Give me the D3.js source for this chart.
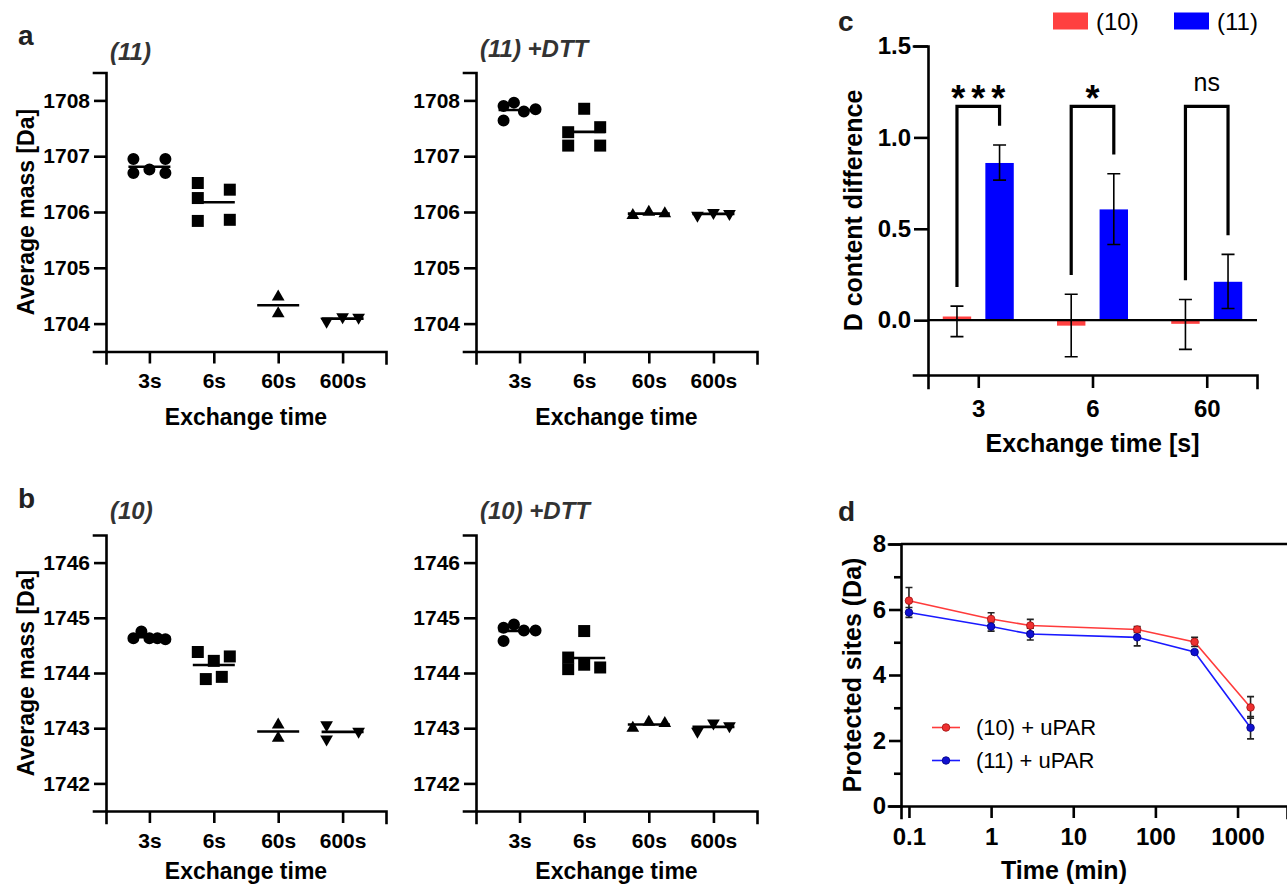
<!DOCTYPE html>
<html><head><meta charset="utf-8">
<script src="https://cdn.jsdelivr.net/npm/d3@7"></script>
<style>
body{margin:0;background:#fff}
svg{display:block}
text{font-family:"Liberation Sans",Arial,Helvetica,sans-serif}
</style>
</head><body>
<svg id="fig" width="1287" height="885"></svg>
<script>
// ---------------- DATA ----------------
const times = ["3s", "6s", "60s", "600s"];
const massTicksA = [1704, 1705, 1706, 1707, 1708];
const massTicksB = [1742, 1743, 1744, 1745, 1746];

// (11)
const mass11 = [
  [1706.95, 1706.70, 1706.76, 1706.95, 1706.70],
  [1706.52, 1706.25, 1705.84, 1706.40, 1705.86],
  [1704.48, 1704.18],
  [1704.04, 1704.12, 1704.11]
];
const slot11 = [[-1, -1, 0, 1, 1], [-1, -1, -1, 1, 1], [0, 0], [-1, 0, 1]];

// (11) +DTT
const mass11DTT = [
  [1707.90, 1707.96, 1707.80, 1707.84, 1707.64],
  [1707.85, 1707.43, 1707.19, 1707.52, 1707.19],
  [1705.94, 1706.00, 1705.97],
  [1705.94, 1705.99, 1705.97]
];
const slot11DTT = [[-1, -0.35, 0.27, 1, -1], [0, -1, -1, 1, 1], [-1, 0, 1], [-1, 0, 1]];

// (10)
const mass10 = [
  [1744.63, 1744.75, 1744.63, 1744.63, 1744.61],
  [1744.38, 1744.22, 1744.30, 1743.89, 1743.93],
  [1743.06, 1742.82],
  [1743.06, 1742.80, 1742.94]
];
const slot10 = [[-1, -0.5, 0, 0.5, 1], [-1, 0, 1, -0.5, 0.5], [0, 0], [-1, -1, 1]];

// (10) +DTT
const mass10DTT = [
  [1744.82, 1744.88, 1744.77, 1744.77, 1744.58],
  [1744.76, 1744.28, 1744.07, 1744.15, 1744.10],
  [1743.00, 1743.11, 1743.09],
  [1742.94, 1743.09, 1743.04]
];
const slot10DTT = [[-1, -0.35, 0.27, 1, -1], [0, -1, -1, 0, 1], [-1, 0, 1], [-1, 0, 1]];

// panel c
const cGroups = ["3", "6", "60"];
const cSeries = ["(10)", "(11)"];
const diff10 = [0.02, -0.03, -0.02];
const diff10Lo = [-0.09, -0.20, -0.16];
const diff10Hi = [0.077, 0.142, 0.113];
const diff11 = [0.86, 0.606, 0.21];
const diff11Lo = [0.766, 0.414, 0.064];
const diff11Hi = [0.958, 0.801, 0.36];
const sigLabels = ["***", "*", "ns"];
const cTicks = [0.0, 0.5, 1.0, 1.5];

// panel d
const tMin = [0.1, 1, 3, 60, 300, 1440];
const prot10 = [6.27, 5.71, 5.51, 5.39, 5.01, 3.01];
const sd10 = [0.40, 0.19, 0.19, 0.09, 0.14, 0.33];
const prot11 = [5.91, 5.48, 5.25, 5.15, 4.70, 2.39];
const sd11 = [0.15, 0.14, 0.18, 0.26, 0.05, 0.34];
const dXTicks = [0.1, 1, 10, 100, 1000];
const dYTicks = [0, 2, 4, 6, 8];
const dYMinor = [1, 3, 5, 7];
const dLegend = ["(10) + uPAR", "(11) + uPAR"];

// ---------------- DRAW ----------------
const svg = d3.select("#fig");
const FONT = '"Liberation Sans",Arial,Helvetica,sans-serif';
const RED = "#ff4040", BLUE = "#0000ff";

function styleAxis(sel, fs) {
  sel.attr("font-family", FONT).attr("font-size", fs);
  sel.select(".domain").attr("stroke", "#000").attr("stroke-width", 2.6).attr("stroke-linecap", "square");
  sel.selectAll(".tick line").attr("stroke", "#000").attr("stroke-width", 2.6);
  sel.selectAll(".tick text").attr("fill", "#000").attr("font-weight", "bold");
}

function label(txt, x, y, opts = {}) {
  return svg.append("text").attr("x", x).attr("y", y)
    .attr("text-anchor", opts.anchor || "middle")
    .attr("font-size", opts.size || 23)
    .attr("font-weight", opts.weight || "bold")
    .attr("font-style", opts.style || "normal")
    .attr("fill", opts.fill || "#000")
    .text(txt);
}

const symbols = [d3.symbolCircle, d3.symbolSquare, d3.symbolTriangle, d3.symbolTriangle];
const symSizes = [113, 144, 70, 70];

function scatterPanel(p) {
  const x = d3.scalePoint().domain(times).range([p.x0, p.x1]).padding(0.674);
  const y = d3.scaleLinear().domain(p.domain).range([p.y1, p.y0]);
  const jit = d3.scaleLinear().domain([-1, 1]).range([-16, 16]);
  const g = svg.append("g");

  g.append("g").attr("transform", `translate(0,${p.y1})`)
    .call(d3.axisBottom(x).tickSizeOuter(0).tickSize(12).tickPadding(10))
    .call(s => styleAxis(s, 21));
  g.append("g").attr("transform", `translate(${p.x0},0)`)
    .call(d3.axisLeft(y).tickValues(p.ticks).tickFormat(d3.format("d")).tickSizeOuter(0).tickSize(12).tickPadding(4))
    .call(s => styleAxis(s, 21));

  p.data.forEach((vals, i) => {
    const cx = x(times[i]);
    g.selectAll(null).data(vals.map((v, j) => ({ v, s: p.slots[i][j] }))).join("path")
      .attr("d", d3.symbol(symbols[i], symSizes[i]))
      .attr("fill", "#000")
      .attr("transform", d => `translate(${cx + jit(d.s)},${y(d.v)}) rotate(${i === 3 ? 180 : 0})`);
    const m = d3.mean(vals);
    g.append("line").attr("x1", cx - 21).attr("x2", cx + 21)
      .attr("y1", y(m)).attr("y2", y(m)).attr("stroke", "#000").attr("stroke-width", 2.6);
  });

  label(p.title, p.x0 + 4, p.titleY, { anchor: "start", size: 24, style: "italic", fill: "#333" });
  label("Exchange time", (p.x0 + p.x1) / 2, p.xlabY, { size: 23 });
  if (p.ylab) {
    svg.append("text").attr("transform", `translate(34,${(p.y0 + p.y1) / 2}) rotate(-90)`)
      .attr("text-anchor", "middle").attr("font-size", 23).attr("font-weight", "bold").text("Average mass [Da]");
  }
}

scatterPanel({ x0: 106, x1: 386, y0: 72.5, y1: 351.5, domain: [1703.5, 1708.5], ticks: massTicksA,
  data: mass11, slots: slot11, title: "(11)", titleY: 60, xlabY: 425, ylab: true });
scatterPanel({ x0: 476, x1: 757, y0: 72.5, y1: 351.5, domain: [1703.5, 1708.5], ticks: massTicksA,
  data: mass11DTT, slots: slot11DTT, title: "(11) +DTT", titleY: 57, xlabY: 425 });
scatterPanel({ x0: 106, x1: 386, y0: 535, y1: 811, domain: [1741.5, 1746.5], ticks: massTicksB,
  data: mass10, slots: slot10, title: "(10)", titleY: 519, xlabY: 879, ylab: true });
scatterPanel({ x0: 476, x1: 757, y0: 535, y1: 811, domain: [1741.5, 1746.5], ticks: massTicksB,
  data: mass10DTT, slots: slot10DTT, title: "(10) +DTT", titleY: 519, xlabY: 879 });

// panel letters
label("a", 18, 45, { anchor: "start", size: 28, fill: "#222" });
label("b", 18, 508, { anchor: "start", size: 28, fill: "#222" });
label("c", 838, 31, { anchor: "start", size: 28, fill: "#222" });
label("d", 838, 521, { anchor: "start", size: 28, fill: "#222" });

// ---------- Panel c ----------
(function () {
  const X0 = 928, X1 = 1257, Y0 = 46, Y1 = 375;
  const x = d3.scalePoint().domain(cGroups).range([X0, X1]).padding(0.44);
  const xs = d3.scaleBand().domain(cSeries).range([-35.5, 35.5]).paddingInner(0.333);
  const y = d3.scaleLinear().domain([-0.3, 1.5]).range([Y1, Y0]);
  const g = svg.append("g");

  const series = [
    { name: cSeries[0], v: diff10, lo: diff10Lo, hi: diff10Hi, c: RED },
    { name: cSeries[1], v: diff11, lo: diff11Lo, hi: diff11Hi, c: BLUE }
  ];
  series.forEach(s => {
    g.selectAll(null).data(cGroups).join("rect")
      .attr("x", (d) => x(d) + xs(s.name))
      .attr("width", xs.bandwidth())
      .attr("y", (d, i) => y(Math.max(0, s.v[i])))
      .attr("height", (d, i) => Math.abs(y(s.v[i]) - y(0)))
      .attr("fill", s.c);
  });
  // zero line
  g.append("line").attr("x1", X0).attr("x2", X1).attr("y1", y(0)).attr("y2", y(0))
    .attr("stroke", "#000").attr("stroke-width", 2.4);
  // error bars
  series.forEach(s => {
    cGroups.forEach((d, i) => {
      const cx = x(d) + xs(s.name) + xs.bandwidth() / 2;
      g.append("path").attr("d",
        `M${cx},${y(s.lo[i])}V${y(s.hi[i])}M${cx - 6.5},${y(s.hi[i])}H${cx + 6.5}M${cx - 6.5},${y(s.lo[i])}H${cx + 6.5}`)
        .attr("stroke", "#000").attr("stroke-width", 1.6).attr("fill", "none");
    });
  });
  // significance brackets
  cGroups.forEach((d, i) => {
    const lx = x(d) + xs(cSeries[0]) + xs.bandwidth() / 2;
    const rx = x(d) + xs(cSeries[1]) + xs.bandwidth() / 2;
    const top = 1.17;
    g.append("path").attr("d",
      `M${lx},${y(diff10Hi[i] + 0.105)}V${y(top)}H${rx}V${y(diff11Hi[i] + 0.105)}`)
      .attr("stroke", "#000").attr("stroke-width", 3.2).attr("fill", "none");
    const isStar = sigLabels[i] !== "ns";
    g.append("text").attr("x", (lx + rx) / 2 + (isStar ? 3 : 0)).attr("y", isStar ? y(top) + 5 : y(top) - 15)
      .attr("text-anchor", "middle")
      .attr("font-size", isStar ? 36 : 25)
      .attr("font-weight", isStar ? "bold" : "normal")
      .attr("letter-spacing", isStar ? 6 : 0)
      .text(sigLabels[i]);
  });

  g.append("g").attr("transform", `translate(0,${Y1})`)
    .call(d3.axisBottom(x).tickSizeOuter(0).tickSize(13).tickPadding(12))
    .call(s => styleAxis(s, 24));
  g.append("g").attr("transform", `translate(${X0},0)`)
    .call(d3.axisLeft(y).tickValues(cTicks).tickFormat(d3.format(".1f")).tickSizeOuter(0).tickSize(14).tickPadding(3))
    .call(s => styleAxis(s, 24));

  svg.append("text").attr("transform", `translate(862,${(Y0 + 375) / 2}) rotate(-90)`)
    .attr("text-anchor", "middle").attr("font-size", 25).attr("font-weight", "bold").text("D content difference");
  label("Exchange time [s]", (X0 + X1) / 2, 452, { size: 25 });

  // legend
  series.forEach((s, i) => {
    const lx = 1053 + i * 121;
    svg.append("rect").attr("x", lx).attr("y", 12.5).attr("width", 35).attr("height", 17).attr("fill", s.c);
    label(s.name, lx + 43, 30, { anchor: "start", size: 24, weight: "normal" });
  });
})();

// ---------- Panel d ----------
(function () {
  const X0 = 901, X1 = 1287, Y0 = 544, Y1 = 806;
  const x = d3.scaleLog().domain([0.08, 4000]).range([X0, X1]);
  const y = d3.scaleLinear().domain([0, 8]).range([Y1, Y0]);
  const g = svg.append("g");

  // frame top
  g.append("line").attr("x1", X0).attr("x2", X1 + 5).attr("y1", Y0).attr("y2", Y0)
    .attr("stroke", "#000").attr("stroke-width", 2.6);

  g.append("g").attr("transform", `translate(0,${Y1})`)
    .call(d3.axisBottom(x).tickValues(dXTicks).tickFormat(d => d < 1 ? "0.1" : d3.format("d")(d)).tickSizeOuter(0).tickSize(12).tickPadding(10))
    .call(s => styleAxis(s, 24));
  g.append("g").attr("transform", `translate(${X0},0)`)
    .call(d3.axisLeft(y).tickValues(dYTicks).tickSizeOuter(0).tickSize(12).tickPadding(3))
    .call(s => styleAxis(s, 24));
  g.append("g").attr("transform", `translate(${X0},0)`)
    .call(d3.axisLeft(y).tickValues(dYMinor).tickFormat("").tickSizeOuter(0).tickSize(7))
    .call(s => { styleAxis(s, 24); s.select(".domain").remove(); });

  const series = [
    { v: prot10, sd: sd10, c: "#ff3b3b", mk: "#ee3030", st: "#a01010" },
    { v: prot11, sd: sd11, c: "#1a1aff", mk: "#1010d0", st: "#000080" }
  ];
  const line = d3.line().x(d => x(d[0])).y(d => y(d[1]));
  series.forEach(s => {
    g.append("path").datum(tMin.map((t, i) => [t, s.v[i]])).attr("d", line)
      .attr("fill", "none").attr("stroke", s.c).attr("stroke-width", 1.6);
  });
  series.forEach(s => {
    tMin.forEach((t, i) => {
      const cx = x(t), lo = y(s.v[i] - s.sd[i]), hi = y(s.v[i] + s.sd[i]);
      g.append("path").attr("d", `M${cx},${lo}V${hi}M${cx - 3.5},${hi}H${cx + 3.5}M${cx - 3.5},${lo}H${cx + 3.5}`)
        .attr("stroke", "#222").attr("stroke-width", 1.6).attr("fill", "none");
    });
  });
  series.forEach(s => {
    g.selectAll(null).data(tMin).join("circle")
      .attr("cx", d => x(d)).attr("cy", (d, i) => y(s.v[i])).attr("r", 3.8)
      .attr("fill", s.mk).attr("stroke", s.st).attr("stroke-width", 0.8);
  });

  // legend
  series.forEach((s, i) => {
    const ly = 727.5 + i * 33;
    g.append("line").attr("x1", 932).attr("x2", 960).attr("y1", ly).attr("y2", ly)
      .attr("stroke", s.c).attr("stroke-width", 1.6);
    g.append("circle").attr("cx", 946).attr("cy", ly).attr("r", 3.8)
      .attr("fill", s.mk).attr("stroke", s.st).attr("stroke-width", 0.8);
    label(dLegend[i], 976, ly + 7.5, { anchor: "start", size: 22, weight: "normal" });
  });

  svg.append("text").attr("transform", `translate(861,${(Y0 + Y1) / 2}) rotate(-90)`)
    .attr("text-anchor", "middle").attr("font-size", 25).attr("font-weight", "bold").text("Protected sites (Da)");
  label("Time (min)", 1064, 879, { size: 25 });
})();
</script>
</body></html>
